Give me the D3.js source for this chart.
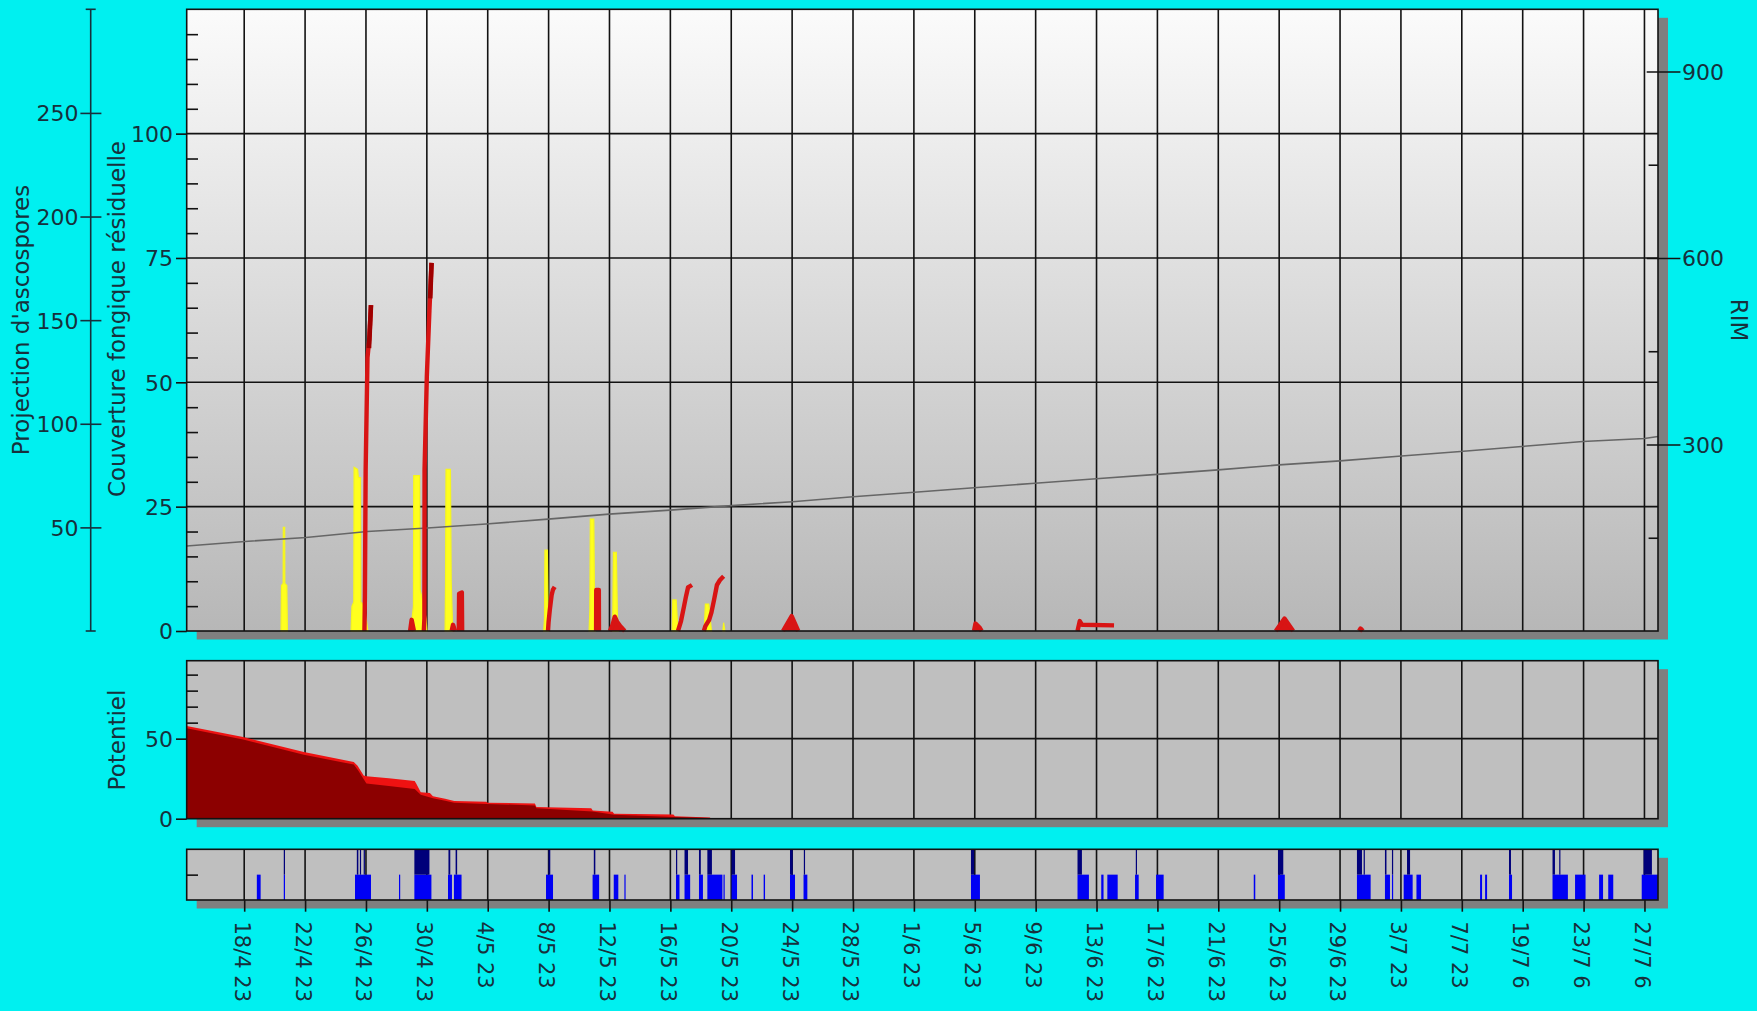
<!DOCTYPE html>
<html>
<head>
<meta charset="utf-8">
<script src="https://cdn.jsdelivr.net/npm/d3@7"></script>
<style>
  html, body { margin: 0; padding: 0; background: #00f0f0; }
  svg { display: block; }
</style>
</head>
<body>
<svg id="chart" width="1757" height="1011"></svg>
<script>
// ---------- data ----------
// x values are days counted from 14/4 (day 4 = 18/4)
const tickDays = [4, 8, 12, 16, 20, 24, 28, 32, 36, 40, 44, 48, 52, 56, 60, 64, 68, 72, 76, 80, 84, 88, 92, 96];
const tickLabels = ["18/4 23", "22/4 23", "26/4 23", "30/4 23", "4/5 23", "8/5 23", "12/5 23", "16/5 23",
  "20/5 23", "24/5 23", "28/5 23", "1/6 23", "5/6 23", "9/6 23", "13/6 23", "17/6 23", "21/6 23",
  "25/6 23", "29/6 23", "3/7 23", "7/7 23", "19/7 6", "23/7 6", "27/7 6"];

const couvTicks = [0, 25, 50, 75, 100];
const couvMinor = [5, 10, 15, 20, 30, 35, 40, 45, 55, 60, 65, 70, 80, 85, 90, 95, 105, 110, 115, 120];
const projTicks = [50, 100, 150, 200, 250];
const rimTicks = [300, 600, 900];
const rimMinor = [150, 450, 750];
const potTicks = [0, 50];
const potMinor = [10, 20, 30, 40, 60, 70, 80, 90];

// residual fungicide coverage (grey line)
const couverture = [[0.22, 17.1], [4.05, 18.0], [8.06, 18.8], [12.09, 20.0], [16.04, 20.7], [19.89, 21.5],
  [23.96, 22.5], [27.97, 23.5], [31.98, 24.3], [36.02, 25.2], [40.02, 26.0], [44.0, 27.0], [48.04, 27.9],
  [51.94, 28.8], [55.96, 29.7], [59.97, 30.6], [63.97, 31.5], [67.98, 32.4], [71.99, 33.4], [75.99, 34.2],
  [80.04, 35.2], [83.91, 36.1], [87.94, 37.1], [91.95, 38.1], [96.0, 38.7], [96.89, 39.1]];

// ascospore ejection events (yellow)
const ascoEvents = [
  [[6.42, 0], [6.45, 22], [6.56, 23], [6.57, 50], [6.66, 50], [6.67, 23], [6.8, 22], [6.84, 0]],
  [[11.02, 0], [11.08, 12], [11.2, 14], [11.22, 79], [11.45, 78], [11.5, 74], [11.64, 74], [11.66, 14], [11.9, 12], [12.05, 4], [12.12, 0]],
  [[14.96, 0], [15.03, 6], [15.12, 12], [15.14, 75], [15.52, 75], [15.56, 20], [15.8, 12], [15.95, 6], [16.0, 0]],
  [[17.2, 0], [17.23, 24], [17.26, 78], [17.55, 78], [17.6, 24], [17.7, 0]],
  [[23.68, 0], [23.73, 6], [23.76, 39], [23.92, 39], [23.97, 6], [24.0, 0]],
  [[26.66, 0], [26.71, 10], [26.74, 54], [26.97, 54], [27.02, 10], [27.07, 0]],
  [[28.17, 0], [28.22, 8], [28.26, 38], [28.45, 38], [28.52, 8], [28.58, 0]],
  [[32.12, 0], [32.16, 15], [32.38, 15], [32.5, 0]],
  [[34.22, 0], [34.3, 13], [34.52, 13], [34.7, 0]],
  [[35.45, 0], [35.5, 4], [35.58, 0]]
];

// RIM infection events (red)
const rimEvents = [
  [[11.9, 0], [11.93, 55], [11.98, 260], [12.1, 440], [12.22, 470], [12.33, 524]],
  [[14.9, 0], [15.0, 18], [15.15, 0]],
  [[15.8, 0], [15.84, 20], [15.85, 260], [16.0, 410], [16.17, 516], [16.31, 592]],
  [[17.63, 0], [17.72, 10], [17.85, 0]],
  [[18.1, 0], [18.12, 60], [18.3, 62], [18.32, 0]],
  [[23.96, 0], [24.0, 15], [24.08, 34], [24.2, 58], [24.28, 66], [24.4, 71]],
  [[27.12, 0], [27.13, 66], [27.3, 66], [27.31, 0]],
  [[28.03, 0], [28.2, 10], [28.35, 23], [28.5, 15], [28.7, 8], [29.0, 0]],
  [[32.5, 0], [32.7, 16], [32.9, 40], [33.03, 56], [33.16, 70], [33.42, 74]],
  [[34.2, 0], [34.3, 8], [34.55, 18], [34.7, 30], [34.87, 50], [35.06, 74], [35.26, 82], [35.5, 88]],
  [[39.4, 0], [39.97, 24], [40.4, 0]],
  [[51.95, 0], [52.05, 12], [52.3, 6], [52.45, 0]],
  [[58.75, 0], [58.9, 16], [59.05, 10], [61.15, 9]],
  [[71.78, 0], [72.35, 20], [72.92, 0]],
  [[77.25, 0], [77.35, 4], [77.5, 0]]
];
// darker stretches at the top of the two big infections
const rimDark = [
  [[12.2, 455], [12.33, 524]],
  [[16.22, 535], [16.31, 592]]
];

// infection potential (two stepped series)
const potentielHaut = [[0.22, 57.9], [3.93, 51], [7.92, 41.6], [11.2, 35.4], [11.45, 33], [11.85, 27], [12.03, 26.5],
  [13.5, 25.2], [15.2, 23.5], [15.3, 22], [15.6, 16.6], [16.2, 16], [16.4, 14], [17.2, 12.5], [17.8, 11],
  [19.9, 10.6], [20.0, 10], [23.1, 9.5], [23.2, 7.3], [26.8, 6.5], [26.9, 5.2], [28.2, 4.4], [28.3, 3.1],
  [32.2, 2.6], [32.3, 1.5], [34.6, 0.8], [34.67, 0]];
const potentielBas = [[0.22, 56.5], [3.93, 49.5], [7.92, 40], [11.2, 33.8], [11.5, 30], [12.03, 22], [13.5, 20.5],
  [15.2, 18.5], [15.6, 15], [16.4, 12.8], [17.2, 11.2], [17.8, 10], [19.9, 9.2], [23.1, 8.3], [23.2, 6.5],
  [26.9, 4.5], [28.3, 2.5], [32.3, 1.1], [34.6, 0.5], [34.67, 0]];

// leaf wetness (lower half) and rain (upper half) periods, [start, end] in days
const wetSpans = [[4.83, 5.08], [6.6, 6.68], [11.28, 12.33], [14.17, 14.25], [15.18, 16.3], [17.39, 17.65],
  [17.78, 18.28], [23.83, 24.29], [26.89, 27.32], [28.28, 28.58], [28.98, 29.05], [32.37, 32.6], [32.93, 33.3],
  [33.88, 34.14], [34.43, 35.42], [35.49, 35.57], [36.02, 36.38], [37.33, 37.43], [38.13, 38.22], [39.86, 40.19],
  [40.75, 41.0], [51.75, 52.34], [58.75, 59.5], [60.31, 60.46], [60.71, 61.39], [62.53, 62.77], [63.91, 64.41],
  [70.33, 70.43], [71.92, 72.37], [77.11, 78.01], [78.95, 79.28], [79.41, 79.47], [80.18, 80.77], [81.02, 81.32],
  [85.2, 85.33], [85.53, 85.66], [87.1, 87.3], [89.96, 90.97], [91.44, 92.13], [93.02, 93.28], [93.62, 93.95],
  [95.82, 96.89]];
const rainSpans = [[6.6, 6.68], [11.4, 11.5], [11.6, 11.68], [11.85, 11.93], [15.18, 16.17], [17.42, 17.54],
  [17.89, 17.99], [23.99, 24.11], [26.97, 27.07], [32.37, 32.45], [32.93, 33.16], [33.88, 34.0], [34.43, 34.73],
  [36.02, 36.25], [39.86, 40.04], [40.77, 40.84], [51.75, 51.96], [58.75, 59.04], [62.58, 62.65], [71.92, 72.27],
  [77.11, 77.44], [77.55, 77.62], [78.95, 79.05], [79.41, 79.47], [80.4, 80.6], [87.1, 87.23], [89.96, 90.12],
  [90.4, 90.47], [95.94, 96.49]];

// ---------- layout ----------
const W = 1757, H = 1011;
const FONT = "'DejaVu Sans', Verdana, sans-serif";
const INK = "#17303c";
const GRID = "#121212";
const plotL = 186.7, plotR = 1658;
const main = { top: 9.3, bottom: 631 };
const pot = { top: 660.7, bottom: 818.7 };
const strip = { top: 849.3, bottom: 900 };
const outerAxisX = 90.7;

const x = d3.scaleLinear().domain([0.222, 96.89]).range([plotL, plotR]);
const yCouv = d3.scaleLinear().domain([0, 125]).range([main.bottom, main.top]);
const yProj = d3.scaleLinear().domain([0, 300]).range([main.bottom, main.top]);
const yRim = d3.scaleLinear().domain([0, 1000]).range([main.bottom, main.top]);
const yPot = d3.scaleLinear().domain([0, 98.7]).range([pot.bottom, pot.top]);
const yStrip = d3.scaleLinear().domain([0, 2]).range([strip.bottom, strip.top]);

const svg = d3.select("#chart");
svg.append("rect").attr("width", W).attr("height", H).attr("fill", "#00f0f0");

const defs = svg.append("defs");
const grad = defs.append("linearGradient").attr("id", "mainBg")
  .attr("x1", 0).attr("y1", 0).attr("x2", 0).attr("y2", 1);
grad.append("stop").attr("offset", "0%").attr("stop-color", "#fbfbfb");
grad.append("stop").attr("offset", "100%").attr("stop-color", "#b7b7b7");

function panelBase(p, fill) {
  svg.append("rect").attr("x", plotL + 10).attr("y", p.top + 8.5)
    .attr("width", plotR - plotL).attr("height", p.bottom - p.top).attr("fill", "#7f7f7f");
  svg.append("rect").attr("x", plotL).attr("y", p.top)
    .attr("width", plotR - plotL).attr("height", p.bottom - p.top).attr("fill", fill);
}
function vGrid(p) {
  svg.append("g").selectAll("line").data(tickDays).join("line")
    .attr("x1", d => x(d)).attr("x2", d => x(d))
    .attr("y1", p.top).attr("y2", p.bottom)
    .attr("stroke", GRID).attr("stroke-width", 1.6);
}
function hGrid(vals, y) {
  svg.append("g").selectAll("line").data(vals).join("line")
    .attr("x1", plotL).attr("x2", plotR)
    .attr("y1", d => y(d)).attr("y2", d => y(d))
    .attr("stroke", GRID).attr("stroke-width", 1.6);
}
function frame(p) {
  svg.append("rect").attr("x", plotL).attr("y", p.top)
    .attr("width", plotR - plotL).attr("height", p.bottom - p.top)
    .attr("fill", "none").attr("stroke", GRID).attr("stroke-width", 1.6);
}
function styleAxis(g, size) {
  g.attr("font-family", FONT).attr("font-size", size);
  g.selectAll(".tick text").attr("fill", INK);
  g.selectAll(".tick line").attr("stroke", GRID).attr("stroke-width", 1.6);
  g.select(".domain").remove();
  return g;
}
function minorTicks(axisGen, xPos) {
  const g = svg.append("g").attr("transform", `translate(${xPos},0)`).call(axisGen.tickFormat(""));
  styleAxis(g, 10);
}

// ---------- main panel ----------
panelBase(main, "url(#mainBg)");
minorTicks(d3.axisRight(yCouv).tickValues(couvMinor).tickSize(11.3), plotL);
minorTicks(d3.axisLeft(yRim).tickValues(rimMinor).tickSize(9.4), plotR);
vGrid(main);
hGrid([25, 50, 75, 100], yCouv);

const ascoArea = d3.area().x(d => x(d[0])).y0(yProj(0)).y1(d => yProj(d[1]));
svg.append("g").selectAll("path").data(ascoEvents).join("path")
  .attr("d", ascoArea).attr("fill", "#ffff1e")
  .attr("stroke", "#f6f61c").attr("stroke-width", 1.2);

svg.append("path").datum(couverture)
  .attr("d", d3.line().x(d => x(d[0])).y(d => yCouv(d[1])))
  .attr("fill", "none").attr("stroke", "#666666").attr("stroke-width", 1.6);

// closed pulses (back to zero) are drawn filled, open ramps as plain lines
const rimLine = d3.line().x(d => x(d[0])).y(d => yRim(d[1]));
svg.append("g").selectAll("path").data(rimEvents).join("path")
  .attr("d", rimLine)
  .attr("fill", d => d[d.length - 1][1] === 0 ? "#d81414" : "none")
  .attr("stroke", "#d81414").attr("stroke-width", 4.4).attr("stroke-linejoin", "round");
svg.append("g").selectAll("path").data(rimDark).join("path")
  .attr("d", rimLine).attr("fill", "none")
  .attr("stroke", "#a00000").attr("stroke-width", 4.6);
frame(main);

// outer axis : ascospore projection
const gProj = svg.append("g").attr("transform", `translate(${outerAxisX},0)`)
  .call(d3.axisLeft(yProj).tickValues(projTicks).tickSize(10.3).tickPadding(2));
styleAxis(gProj, 22);
gProj.selectAll(".tick line").attr("x1", 10.7).attr("stroke", INK);
gProj.selectAll(".tick text").attr("dy", "0.36em");
svg.append("line").attr("x1", outerAxisX).attr("x2", outerAxisX)
  .attr("y1", main.top).attr("y2", main.bottom).attr("stroke", INK).attr("stroke-width", 1.6);
svg.append("g").selectAll("line").data([main.top, main.bottom]).join("line")
  .attr("x1", outerAxisX - 5).attr("x2", outerAxisX + 5)
  .attr("y1", d => d).attr("y2", d => d).attr("stroke", INK).attr("stroke-width", 1.6);

// inner axis : residual coverage
const gCouv = svg.append("g").attr("transform", `translate(${plotL},0)`)
  .call(d3.axisLeft(yCouv).tickValues(couvTicks).tickSize(10.7).tickPadding(3));
styleAxis(gCouv, 22);
gCouv.selectAll(".tick text").attr("dy", "0.36em");

// right axis : RIM
const gRim = svg.append("g").attr("transform", `translate(${plotR},0)`)
  .call(d3.axisRight(yRim).tickValues(rimTicks).tickSize(22.4).tickPadding(1.6));
styleAxis(gRim, 22);
gRim.selectAll(".tick line").attr("x1", -11.3);
gRim.selectAll(".tick text").attr("dy", "0.36em");

// ---------- potential panel ----------
panelBase(pot, "#bfbfbf");
minorTicks(d3.axisRight(yPot).tickValues(potMinor).tickSize(11.3), plotL);
vGrid(pot);
hGrid([50], yPot);
const potArea = d3.area().x(d => x(d[0])).y0(yPot(0)).y1(d => yPot(d[1]));
svg.append("path").datum(potentielHaut).attr("d", potArea).attr("fill", "#ee1212");
svg.append("path").datum(potentielBas).attr("d", potArea).attr("fill", "#8c0000");
frame(pot);
const gPot = svg.append("g").attr("transform", `translate(${plotL},0)`)
  .call(d3.axisLeft(yPot).tickValues(potTicks).tickSize(10.7).tickPadding(3));
styleAxis(gPot, 22);
gPot.selectAll(".tick text").attr("dy", "0.36em");

// ---------- wetness / rain strip ----------
panelBase(strip, "#bfbfbf");
minorTicks(d3.axisRight(yStrip).tickValues([1]).tickSize(11.3), plotL);
vGrid(strip);
svg.append("g").selectAll("rect").data(wetSpans).join("rect")
  .attr("x", d => x(d[0])).attr("width", d => Math.max(1.2, x(d[1]) - x(d[0])))
  .attr("y", yStrip(1)).attr("height", yStrip(0) - yStrip(1)).attr("fill", "#0000f4");
svg.append("g").selectAll("rect").data(rainSpans).join("rect")
  .attr("x", d => x(d[0])).attr("width", d => Math.max(1.2, x(d[1]) - x(d[0])))
  .attr("y", yStrip(2)).attr("height", yStrip(1) - yStrip(2)).attr("fill", "#00007a");
frame(strip);

// date axis
const gX = svg.append("g").attr("transform", `translate(0,${strip.bottom})`)
  .call(d3.axisBottom(x).tickValues(tickDays).tickSize(11.7).tickFormat((d, i) => tickLabels[i]));
styleAxis(gX, 21);
gX.selectAll(".tick text")
  .attr("transform", "rotate(90)")
  .attr("x", 21.5).attr("y", 2.5).attr("dy", "0.36em")
  .attr("text-anchor", "start");

// ---------- titles ----------
function title(txt, cx, cy, angle, size) {
  svg.append("text").text(txt)
    .attr("transform", `translate(${cx},${cy}) rotate(${angle})`)
    .attr("text-anchor", "middle").attr("dominant-baseline", "central")
    .attr("font-family", FONT).attr("font-size", size).attr("fill", INK);
}
title("Projection d'ascospores", 21, 320, -90, 23);
title("Couverture fongique résiduelle", 117, 319, -90, 23);
title("Potentiel", 117, 740, -90, 23);
title("RIM", 1739, 320, 90, 23);
</script>
</body>
</html>
